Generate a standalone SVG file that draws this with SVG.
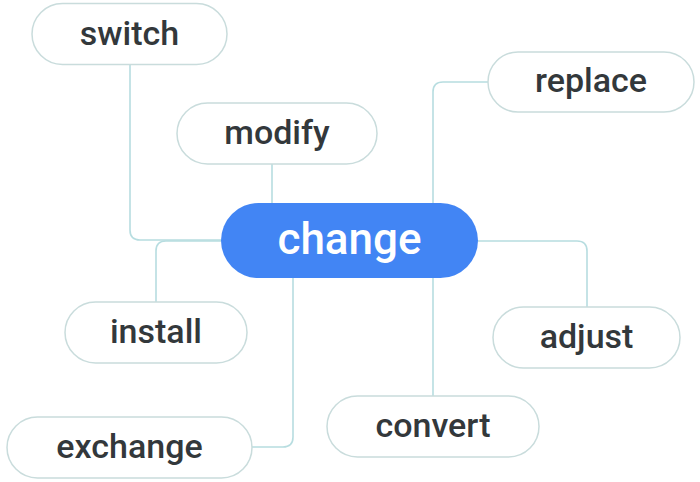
<svg xmlns="http://www.w3.org/2000/svg" width="700" height="482" viewBox="0 0 700 482">
<style>
.node rect{fill:#ffffff;stroke:#c9dcdc;stroke-width:1.5}
.node text{font-family:Roboto,"Noto Sans",sans-serif;font-size:34px;font-weight:500;fill:#33383b;text-anchor:middle;dominant-baseline:central}
#n-change rect{fill:#4285f4;stroke:none}
#n-change text{fill:#ffffff;font-size:44px}
.edges path{fill:none;stroke:#b7dde0;stroke-width:1.6}
</style>
<rect width="700" height="482" fill="#ffffff"/>
<g class="edges" id="connectors">
<path d="M130,64 V230 Q130,240 140,240 H221"/>
<path d="M272,164 V203"/>
<path d="M433,203 V92 Q433,82 443,82 H488"/>
<path d="M221,241 H166 Q156,241 156,251 V302"/>
<path d="M293,278 V437 Q293,447 283,447 H252"/>
<path d="M433,278 V396"/>
<path d="M478,241 H577 Q587,241 587,251 V307"/>
</g>
<g class="node" id="n-change"><rect x="221" y="203" width="257" height="75" rx="37.5"/><text x="349.5" y="239">change</text></g>
<g class="node" id="n-switch"><rect x="32" y="3.5" width="195" height="61" rx="30.5"/><text x="129.5" y="33">switch</text></g>
<g class="node" id="n-modify"><rect x="177" y="103" width="200" height="61" rx="30.5"/><text x="277" y="132">modify</text></g>
<g class="node" id="n-replace"><rect x="488" y="52" width="206" height="60" rx="30"/><text x="591" y="80">replace</text></g>
<g class="node" id="n-install"><rect x="65" y="302" width="182" height="61" rx="30.5"/><text x="156" y="331">install</text></g>
<g class="node" id="n-exchange"><rect x="7" y="417" width="245" height="61" rx="30.5"/><text x="129.5" y="446">exchange</text></g>
<g class="node" id="n-adjust"><rect x="493" y="307" width="187" height="61" rx="30.5"/><text x="586.5" y="336">adjust</text></g>
<g class="node" id="n-convert"><rect x="327" y="396" width="212" height="61" rx="30.5"/><text x="433" y="425">convert</text></g>
</svg>
